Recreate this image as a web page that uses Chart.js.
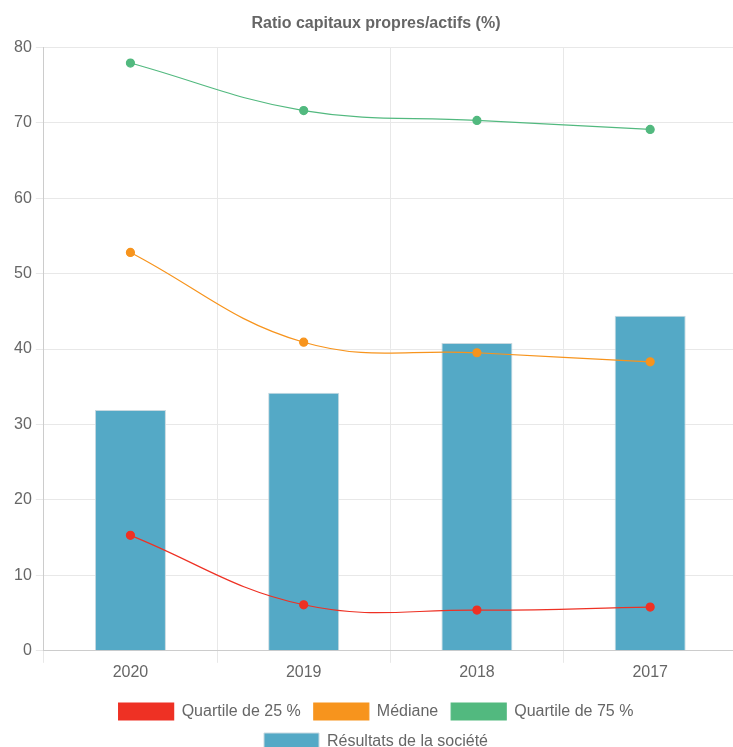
<!DOCTYPE html>
<html>
<head>
<meta charset="utf-8">
<script src="https://cdn.jsdelivr.net/npm/chart.js@4/dist/chart.umd.min.js"></script>
<style>
  html, body { margin: 0; padding: 0; background: #fff; overflow: hidden; }
  #wrap { width: 742px; height: 760px; }
</style>
</head>
<body>
<div id="wrap"><canvas id="ratioChart"></canvas></div>
<script>
var years = ["2020", "2019", "2018", "2017"];
var quartile25 = [15.3, 6.1, 5.4, 5.8];
var mediane = [52.8, 40.9, 39.5, 38.3];
var quartile75 = [77.9, 71.6, 70.3, 69.1];
var societe = [31.9, 34.2, 40.8, 44.4];
var yTicks = [0, 10, 20, 30, 40, 50, 60, 70, 80];

Chart.defaults.font.family = "'Liberation Sans', Arial, sans-serif";
Chart.defaults.color = "#666";

function lineSet(label, values, color) {
  return {
    type: 'line',
    label: label,
    data: values,
    borderColor: color,
    backgroundColor: color,
    pointBackgroundColor: color,
    pointBorderColor: color,
    borderWidth: 1.2,
    pointRadius: 4,
    tension: 0.4,
    fill: false,
    order: 1
  };
}

var ctx = document.getElementById("ratioChart");
var ratioChart = new Chart(ctx, {
  type: 'bar',
  data: {
    labels: years,
    datasets: [
      lineSet("Quartile de 25 %", quartile25, "#ee3124"),
      lineSet("Médiane", mediane, "#f7941d"),
      lineSet("Quartile de 75 %", quartile75, "#52b97f"),
      {
        type: 'bar',
        label: "Résultats de la société",
        data: societe,
        backgroundColor: "#54a9c6",
        borderColor: "#c8d9e0",
        borderWidth: 1,
        barPercentage: 0.41,
        categoryPercentage: 1,
        order: 2
      }
    ]
  },
  options: {
    responsive: true,
    maintainAspectRatio: false,
    animation: false,
    layout: { padding: { left: 10, right: 0, top: 0, bottom: 0 } },
    plugins: {
      title: {
        display: true,
        text: "Ratio capitaux propres/actifs (%)",
        color: "#666",
        font: { size: 16, weight: 'bold' },
        padding: { top: 14, bottom: 14 }
      },
      legend: {
        position: 'bottom',
        labels: {
          boxWidth: 55,
          boxHeight: 17,
          font: { size: 16 },
          color: "#666",
          padding: 13
        }
      },
      tooltip: { enabled: false }
    },
    scales: {
      x: {
        grid: { color: "#e8e8e8", offset: true, tickLength: 12 },
        border: { color: "#cccccc" },
        ticks: { font: { size: 16 }, color: "#666", padding: 0 },
        afterFit: function(axis) { axis.height += 8; }
      },
      y: {
        min: 0,
        max: 80,
        afterBuildTicks: function(axis) {
          axis.ticks = yTicks.map(function(v) { return { value: v }; });
        },
        grid: { color: "#e8e8e8", tickLength: 8 },
        border: { color: "#cccccc" },
        ticks: { font: { size: 16 }, color: "#666", padding: 4 }
      }
    }
  }
});
</script>
</body>
</html>
